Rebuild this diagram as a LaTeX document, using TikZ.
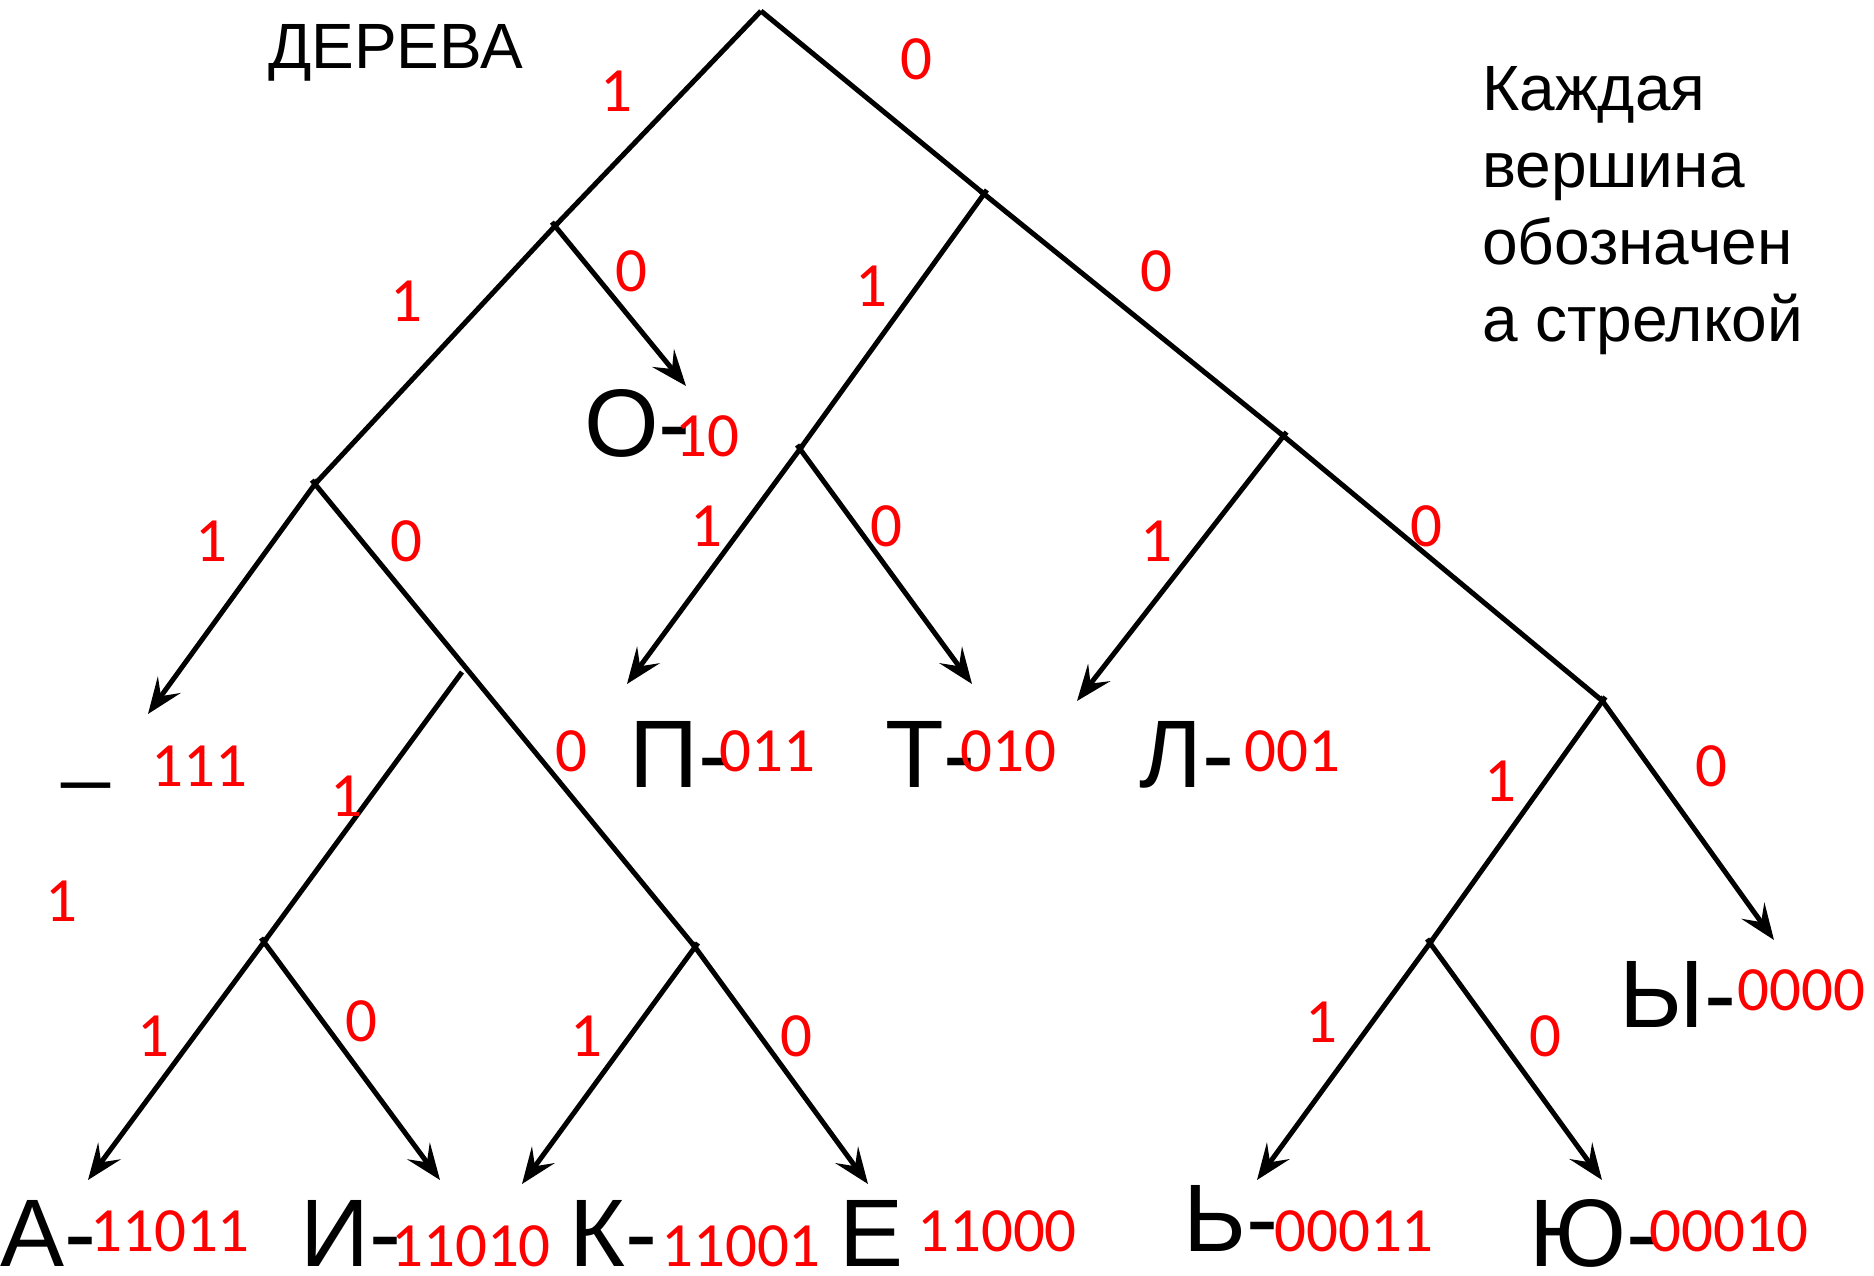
\documentclass[tikz,border=0pt]{standalone}
\usepackage{fontspec}
\setmainfont{Liberation Sans}
\newfontfamily\digitfont{Carlito}
\usetikzlibrary{arrows.meta}
\tikzset{
  edge/.style={line width=5pt, line cap=butt, black},
  child/.style={edge, shorten <=-5pt},
  arr/.style={child, -{Stealth[length=36pt,width=28pt,inset=14pt]}},
  lbl/.style={text=red, font=\digitfont\fontsize{63}{63}\selectfont, inner sep=0pt, anchor=base},
  codetxt/.style={lbl, anchor=base west},
  letter/.style={font=\fontsize{96}{96}\selectfont, inner sep=0pt, anchor=base west},
  titletxt/.style={font=\fontsize{64}{64}\selectfont, inner sep=0pt, anchor=base west}
}
\begin{document}
\begin{tikzpicture}[x=1pt,y=-1pt]
\useasboundingbox (0,0) rectangle (1874,1276);
% junctions
\coordinate (R) at (761,11);
\coordinate (N1) at (555,226);
\coordinate (N0) at (984,194);
\coordinate (N11) at (315,484);
\coordinate (N1100) at (695,947);
\coordinate (N110) at (462,672);
\coordinate (N1101) at (264,942);
\coordinate (N01) at (800,449);
\coordinate (N00) at (1283.5,436);
\coordinate (N000) at (1602.5,701);
\coordinate (N0001) at (1430,943);
% arrow tips
\coordinate (tO) at (686,386);
\coordinate (tS) at (148,714);
\coordinate (tA) at (88,1180);
\coordinate (tI) at (440,1180);
\coordinate (tK) at (522,1184);
\coordinate (tE) at (868,1184);
\coordinate (tP) at (627,684);
\coordinate (tT) at (972,684);
\coordinate (tL) at (1077,701);
\coordinate (tY) at (1774,940);
\coordinate (tSoft) at (1257,1180);
\coordinate (tYu) at (1602,1180);
% tree lines
\draw[edge] (R) -- (N1);
\draw[edge] (R) -- (N0);
\draw[child] (N1) -- (N11);
\draw[arr] (N1) -- (tO);
\draw[arr] (N11) -- (tS);
\draw[child] (N11) -- (N1100);
\draw[edge] (N110) -- (N1101);
\draw[arr] (N1101) -- (tA);
\draw[arr] (N1101) -- (tI);
\draw[arr] (N1100) -- (tK);
\draw[arr] (N1100) -- (tE);
\draw[child] (N0) -- (N01);
\draw[arr] (N01) -- (tP);
\draw[arr] (N01) -- (tT);
\draw[child] (N0) -- (N00);
\draw[arr] (N00) -- (tL);
\draw[child] (N00) -- (N000);
\draw[arr] (N000) -- (tY);
\draw[child] (N000) -- (N0001);
\draw[arr] (N0001) -- (tSoft);
\draw[arr] (N0001) -- (tYu);
% edge labels
\node[lbl] (e1) at (616,112) {1};
\node[lbl] (e2) at (916,80) {0};
\node[lbl] (e3) at (631,291) {0};
\node[lbl] (e4) at (406.5,321) {1};
\node[lbl] (e5) at (871,306) {1};
\node[lbl] (e6) at (1156,291) {0};
\node[lbl] (e7) at (211,561) {1};
\node[lbl] (e8) at (406.5,561) {0};
\node[lbl] (e9) at (706,546.5) {1};
\node[lbl] (e10) at (886,546.5) {0};
\node[lbl] (e11) at (1156,561) {1};
\node[lbl] (e12) at (1426,546.5) {0};
\node[lbl] (e13) at (61,921) {1};
\node[lbl] (e14) at (346.5,816) {1};
\node[lbl] (e15) at (571,771.5) {0};
\node[lbl] (e16) at (153,1056) {1};
\node[lbl] (e17) at (361.5,1041) {0};
\node[lbl] (e18) at (586,1056) {1};
\node[lbl] (e19) at (796,1056) {0};
\node[lbl] (e20) at (1500.5,801) {1};
\node[lbl] (e21) at (1711.6,786) {0};
\node[lbl] (e22) at (1321,1042) {1};
\node[lbl] (e23) at (1545.5,1056) {0};
% letters
\node[letter] (lO) at (584,456) {О-};
\node[letter] (lP) at (629,787) {П-};
\node[letter] (lT) at (885,787) {Т-};
\node[letter] (lL) at (1139,787) {Л-};
\node[letter, font=\fontsize{85}{85}\selectfont] (lS) at (62,771) {\_};
\node[letter] (lA) at (0,1266.6) {А-};
\node[letter] (lI) at (300,1266.6) {И-};
\node[letter] (lK) at (569,1266.6) {К-};
\node[letter] (lE) at (839,1266.6) {Е};
\node[letter] (lSoft) at (1183,1251.5) {Ь-};
\node[letter] (lYu) at (1529,1266.6) {Ю-};
\node[letter] (lY) at (1619,1027) {Ы-};
% codes
\node[codetxt] (cO) at (675,456) {10};
\node[codetxt] (cP) at (719,771) {011};
\node[codetxt] (cT) at (960,771) {010};
\node[codetxt] (cL) at (1244,771) {001};
\node[codetxt] (cS) at (151,786) {111};
\node[codetxt] (cA) at (90,1251.5) {11011};
\node[codetxt] (cI) at (391,1266.6) {11010};
\node[codetxt] (cK) at (661,1266.6) {11001};
\node[codetxt] (cE) at (917,1251.5) {11000};
\node[codetxt] (cSoft) at (1274,1251.5) {00011};
\node[codetxt] (cYu) at (1649,1251.5) {00010};
\node[codetxt] (cY) at (1737,1010.7) {0000};
% titles
\node[titletxt] (title) at (268,68.6) {ДЕРЕВА};
\node[titletxt] (k1) at (1482,111) {Каждая};
\node[titletxt] (k2) at (1482,188) {вершина};
\node[titletxt] (k3) at (1482,265) {обозначен};
\node[titletxt] (k4) at (1482,341) {а стрелкой};
\end{tikzpicture}
\end{document}
